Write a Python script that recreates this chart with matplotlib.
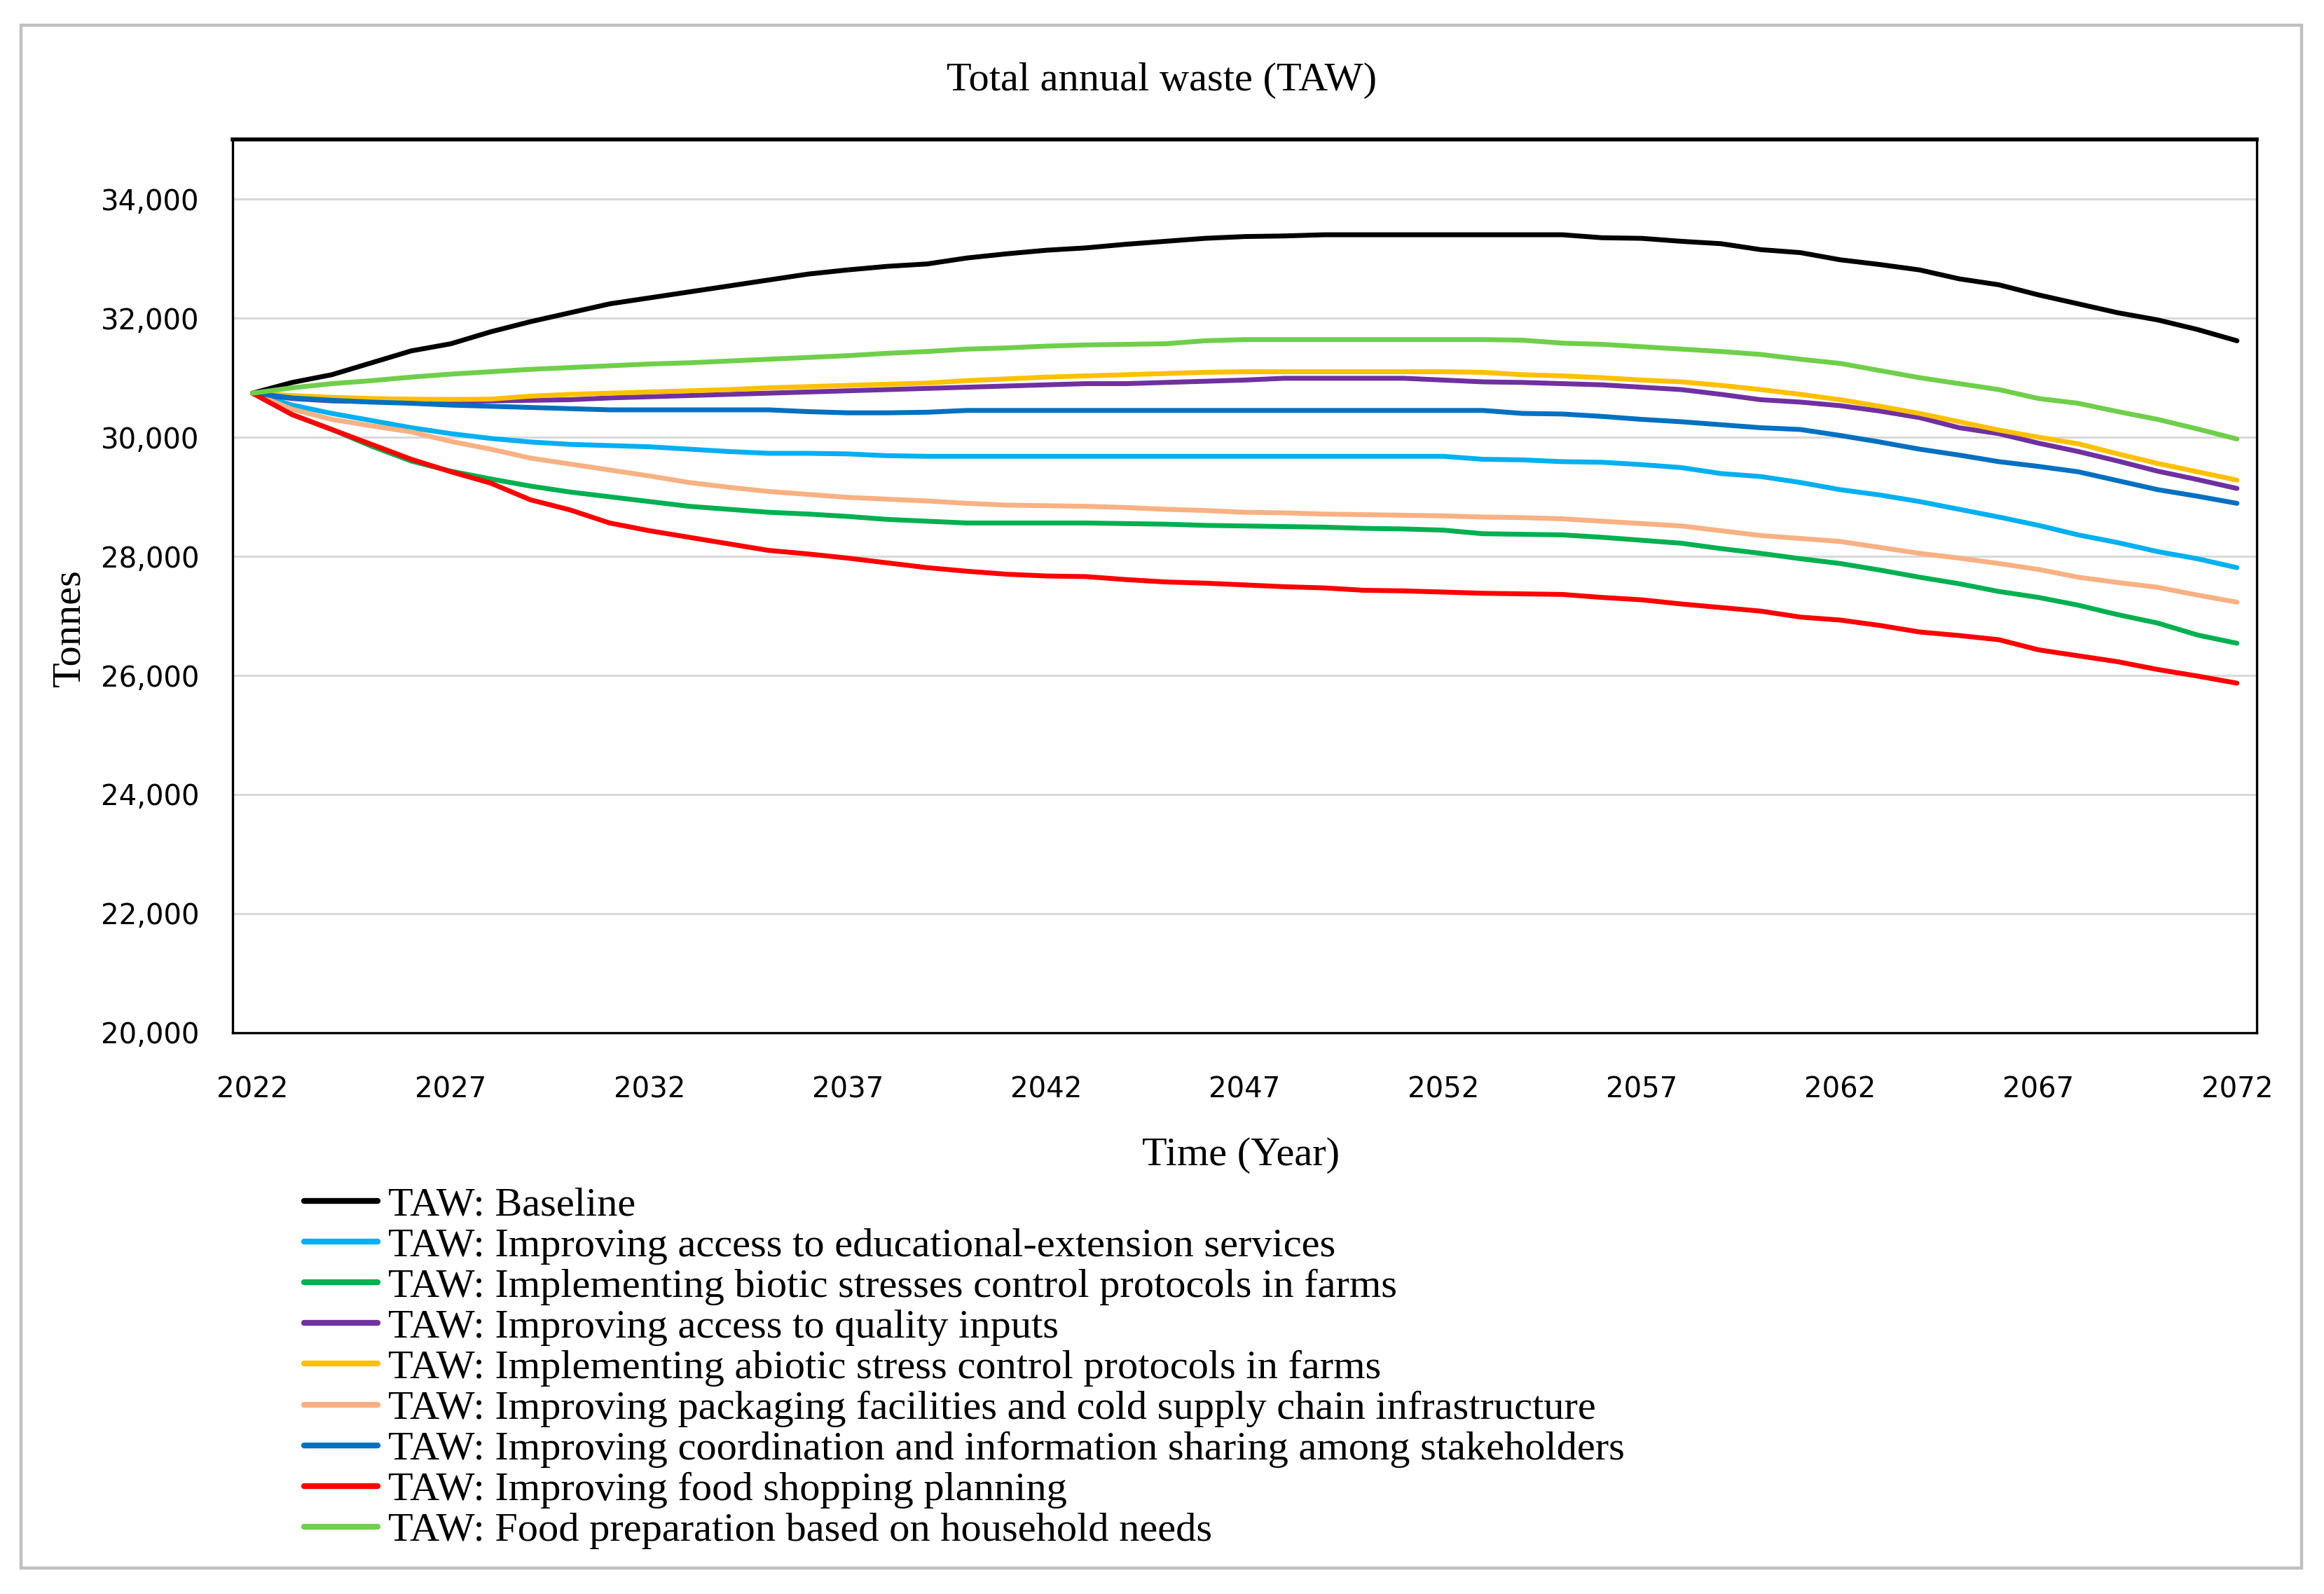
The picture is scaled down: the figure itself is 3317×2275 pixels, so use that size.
import matplotlib

matplotlib.use("Agg")
import matplotlib.pyplot as plt  # noqa: E402
from matplotlib.patches import Rectangle  # noqa: E402
from matplotlib.ticker import FuncFormatter  # noqa: E402

YEARS = list(range(2022, 2073))

BASELINE = [30740, 30920, 31050, 31250, 31450, 31570, 31770, 31940, 32090, 32240,
            32340, 32440, 32540, 32640, 32740, 32810, 32870, 32910, 33010, 33080,
            33140, 33180, 33240, 33290, 33340, 33370, 33380, 33400, 33400, 33400,
            33400, 33400, 33400, 33400, 33350, 33340, 33290, 33250, 33150, 33100,
            32980, 32900, 32810, 32660, 32560, 32390, 32240, 32090, 31970, 31810,
            31620]
EDUCATION = [30740, 30540, 30400, 30280, 30160, 30060, 29980, 29920, 29880, 29860,
             29840, 29800, 29760, 29730, 29730, 29720, 29690, 29680, 29680, 29680,
             29680, 29680, 29680, 29680, 29680, 29680, 29680, 29680, 29680, 29680,
             29680, 29630, 29620, 29590, 29580, 29540, 29490, 29390, 29340, 29240,
             29120, 29030, 28920, 28790, 28660, 28520, 28360, 28230, 28080, 27960,
             27810]
BIOTIC = [30740, 30380, 30130, 29850, 29600, 29430, 29300, 29180, 29080, 29000,
          28920, 28840, 28790, 28740, 28710, 28670, 28620, 28590, 28560, 28560,
          28560, 28560, 28550, 28540, 28520, 28510, 28500, 28490, 28470, 28460,
          28440, 28380, 28370, 28360, 28320, 28270, 28220, 28130, 28050, 27960,
          27880, 27770, 27650, 27540, 27410, 27310, 27180, 27020, 26880, 26680,
          26540]
QUALITY = [30740, 30650, 30610, 30600, 30600, 30600, 30610, 30620, 30630, 30660,
           30680, 30700, 30720, 30740, 30760, 30780, 30800, 30820, 30840, 30860,
           30880, 30900, 30900, 30920, 30940, 30960, 30990, 30990, 30990, 30990,
           30960, 30930, 30920, 30900, 30880, 30840, 30800, 30720, 30630, 30590,
           30530, 30440, 30330, 30160, 30060, 29900, 29760, 29600, 29430, 29290,
           29140]
ABIOTIC = [30740, 30700, 30670, 30650, 30640, 30635, 30640, 30690, 30720, 30740,
           30760, 30780, 30800, 30830, 30850, 30870, 30890, 30910, 30950, 30980,
           31010, 31030, 31050, 31070, 31090, 31100, 31100, 31100, 31100, 31100,
           31100, 31090, 31050, 31030, 31000, 30960, 30930, 30870, 30800, 30720,
           30630, 30520, 30400, 30260, 30120, 30000, 29890, 29720, 29560, 29420,
           29280]
PACKAGING = [30740, 30470, 30300, 30190, 30090, 29930, 29800, 29650, 29550, 29450,
             29350, 29240, 29160, 29090, 29040, 28990, 28960, 28930, 28890, 28860,
             28850, 28840, 28820, 28790, 28770, 28740, 28730, 28710, 28700, 28690,
             28680, 28660, 28650, 28630, 28590, 28550, 28510, 28430, 28350, 28300,
             28250, 28150, 28050, 27970, 27880, 27780, 27650, 27560, 27480, 27350,
             27230]
COORDINATION = [30740, 30660, 30620, 30590, 30570, 30540, 30520, 30500, 30480, 30460,
                30460, 30460, 30460, 30460, 30430, 30410, 30410, 30420, 30450, 30450,
                30450, 30450, 30450, 30450, 30450, 30450, 30450, 30450, 30450, 30450,
                30450, 30450, 30400, 30390, 30350, 30300, 30260, 30210, 30160, 30130,
                30030, 29920, 29800, 29700, 29590, 29510, 29420, 29270, 29120, 29010,
                28890]
SHOPPING = [30740, 30380, 30130, 29880, 29630, 29420, 29230, 28950, 28780, 28560,
            28430, 28320, 28210, 28100, 28040, 27970, 27890, 27810, 27750, 27700,
            27670, 27660, 27610, 27570, 27550, 27520, 27490, 27470, 27430, 27420,
            27400, 27380, 27370, 27360, 27310, 27270, 27200, 27140, 27080, 26980,
            26930, 26840, 26730, 26670, 26600, 26430, 26330, 26230, 26100, 25990,
            25870]
HOUSEHOLD = [30740, 30830, 30900, 30950, 31010, 31060, 31100, 31140, 31170, 31200,
             31230, 31250, 31280, 31310, 31340, 31370, 31410, 31440, 31480, 31500,
             31530, 31550, 31560, 31570, 31620, 31640, 31640, 31640, 31640, 31640,
             31640, 31640, 31630, 31580, 31560, 31520, 31480, 31440, 31390, 31310,
             31240, 31120, 31000, 30900, 30800, 30650, 30570, 30430, 30300, 30140,
             29970]

LABELS = [
    "TAW: Baseline",
    "TAW: Improving access to educational-extension services",
    "TAW: Implementing biotic stresses control protocols in farms",
    "TAW: Improving access to quality inputs",
    "TAW: Implementing abiotic stress control protocols in farms",
    "TAW: Improving packaging facilities and cold supply chain infrastructure",
    "TAW: Improving coordination and information sharing among stakeholders",
    "TAW: Improving food shopping planning",
    "TAW: Food preparation based on household needs",
]
SERIES = [BASELINE, EDUCATION, BIOTIC, QUALITY, ABIOTIC, PACKAGING,
          COORDINATION, SHOPPING, HOUSEHOLD]
COLORS = ["#000000", "#00b0f0", "#00b050", "#7030a0", "#ffc000", "#f8b183",
          "#0070c0", "#ff0000", "#6fcf4a"]
X_TICKS = list(range(2022, 2073, 5))
Y_TICKS = list(range(20000, 34001, 2000))

SERIF = ["Liberation Serif", "DejaVu Serif"]
FS = 21

fig = plt.figure(figsize=(16.585, 11.375), dpi=200)
ax = fig.add_axes([0.1001, 0.3521, 0.871, 0.5604])

for vals, lab, col in zip(SERIES, LABELS, COLORS):
    ax.plot(YEARS, vals, color=col, lw=2.5, label=lab, solid_capstyle="round")

ax.set_xlim(2021.5, 2072.5)
ax.set_ylim(20000, 35000)
ax.set_xticks(X_TICKS)
ax.set_yticks(Y_TICKS)
ax.yaxis.set_major_formatter(FuncFormatter(lambda v, _: f"{int(v):,}"))
ax.tick_params(length=0, labelsize=14.5)
ax.tick_params(axis="x", pad=22)
ax.tick_params(axis="y", pad=17)
ax.grid(axis="y", color="#d9d9d9", lw=1.1)
ax.set_axisbelow(True)
for sp in ax.spines.values():
    sp.set_linewidth(1.2)
    sp.set_color("black")
ax.spines["top"].set_linewidth(2.0)

fig.text(0.5, 0.9497, "Total annual waste (TAW)", ha="center", va="center",
         family=SERIF, fontsize=FS)
fig.text(0.534, 0.2752, "Time (Year)", ha="center", va="center",
         family=SERIF, fontsize=FS)
fig.text(0.0299, 0.606, "Tonnes", ha="center", va="center", rotation=90,
         family=SERIF, fontsize=FS)

handles, labels = ax.get_legend_handles_labels()
leg = fig.legend(handles, labels, loc="upper left", bbox_to_anchor=(0.1308, 0.2555),
                 frameon=False, prop={"family": SERIF, "size": FS},
                 handlelength=1.8, handletextpad=0.26, labelspacing=0.09,
                 borderpad=0, borderaxespad=0)
for ln in leg.get_lines():
    ln.set_linewidth(3.0)

fig.add_artist(Rectangle((0.009, 0.0163), 0.9813, 0.968, transform=fig.transFigure,
                         fill=False, edgecolor="#c0c0c0", lw=1.6))

fig.savefig("out.png", dpi=200, facecolor="white")
